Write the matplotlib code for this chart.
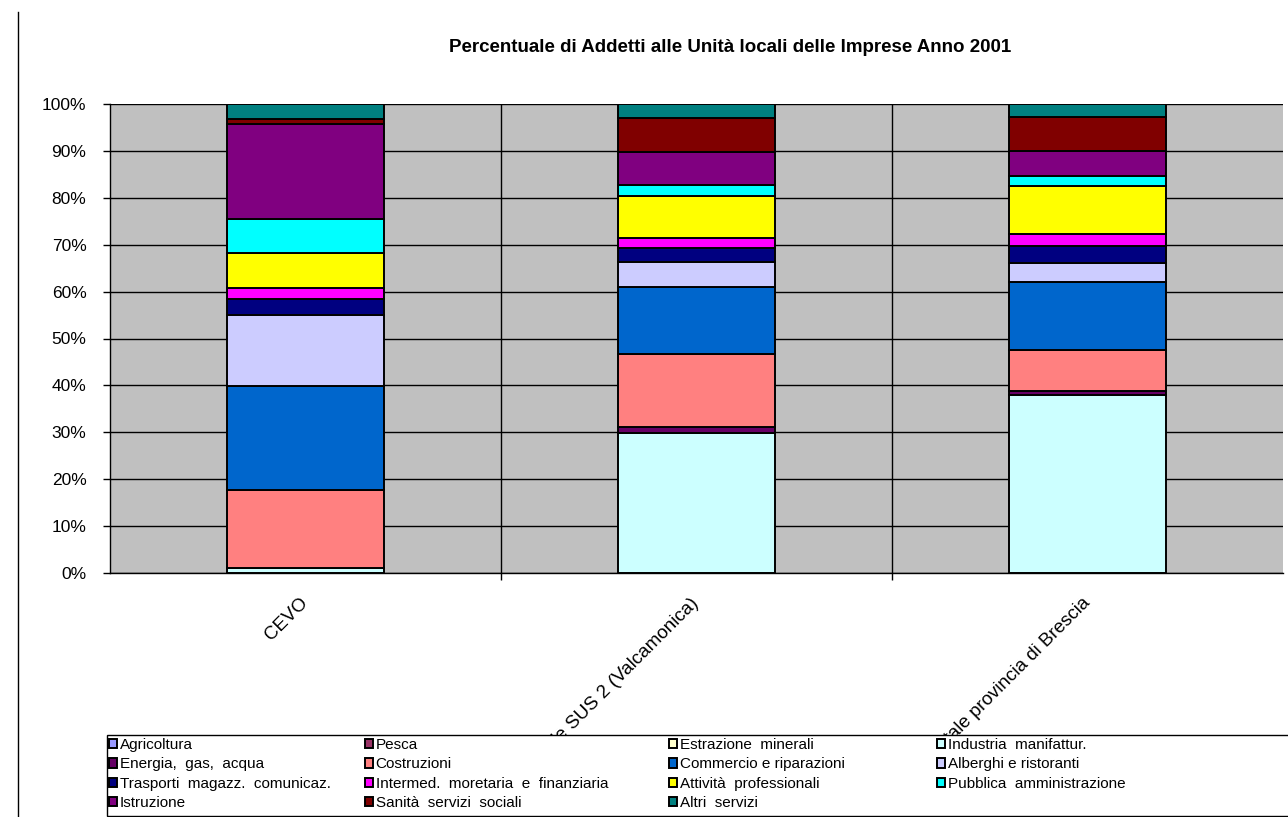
import numpy as np
import matplotlib.pyplot as plt
from matplotlib.lines import Line2D
from matplotlib.patches import Rectangle
from matplotlib.ticker import FuncFormatter

plt.rcParams['font.family'] = ['Liberation Sans', 'DejaVu Sans']

W, H = 1288, 817

categorie = ['CEVO', 'Totale SUS 2 (Valcamonica)', 'Totale provincia di Brescia']

# addetti per settore, valori percentuali
agricoltura = [0.0, 0.0, 0.0]
pesca = [0.0, 0.0, 0.0]
estrazione = [0.0, 0.0, 0.0]
industria = [1.1, 29.9, 38.0]
energia = [0.0, 1.2, 0.7]
costruzioni = [16.6, 15.7, 8.8]
commercio = [22.2, 14.2, 14.5]
alberghi = [15.1, 5.4, 4.0]
trasporti = [3.4, 3.0, 3.7]
intermed = [2.4, 2.1, 2.5]
attivita = [7.4, 8.9, 10.4]
pubblica = [7.2, 2.3, 2.1]
istruzione = [20.3, 7.1, 5.3]
sanita = [1.0, 7.3, 7.2]
altri = [3.3, 2.9, 2.8]

settori = ['Agricoltura', 'Pesca', 'Estrazione  minerali', 'Industria  manifattur.',
           'Energia,  gas,  acqua', 'Costruzioni', 'Commercio e riparazioni',
           'Alberghi e ristoranti', 'Trasporti  magazz.  comunicaz.',
           'Intermed.  moretaria  e  finanziaria', 'Attività  professionali',
           'Pubblica  amministrazione', 'Istruzione', 'Sanità  servizi  sociali',
           'Altri  servizi']
valori = [agricoltura, pesca, estrazione, industria, energia, costruzioni,
          commercio, alberghi, trasporti, intermed, attivita, pubblica,
          istruzione, sanita, altri]
colori = ['#9999FF', '#993366', '#FFFFCC', '#CCFFFF', '#660066', '#FF8080',
          '#0066CC', '#CCCCFF', '#000080', '#FF00FF', '#FFFF00', '#00FFFF',
          '#800080', '#800000', '#008080']

dati = np.array(valori, dtype=float)
dati = dati / dati.sum(axis=0) * 100

fig = plt.figure(figsize=(W / 100, H / 100), dpi=100)
ax = fig.add_axes([110 / W, 1 - 573 / H, 1173 / W, 469 / H])
ax.set_facecolor('#C0C0C0')

x = np.arange(len(categorie))
base = np.zeros(len(categorie))
handles = []
for nome, serie, col in zip(settori, dati, colori):
    b = ax.bar(x, serie, 0.4, bottom=base, color=col, edgecolor='black',
               linewidth=1.4, label=nome, zorder=3)
    handles.append(b)
    base += serie

ax.set_xlim(-0.5, len(categorie) - 0.5)
ax.set_ylim(0, 100)
ax.set_yticks(np.arange(0, 101, 10))
ax.yaxis.set_major_formatter(FuncFormatter(lambda v, p: f'{v:.0f}%'))
ax.tick_params(axis='y', labelsize=12.5, length=5, width=1, direction='out', pad=12)
ax.grid(axis='y', color='black', linewidth=1, zorder=1)

# linee di separazione tra le categorie
for sep in x[:-1] + 0.5:
    ax.axvline(sep, color='black', linewidth=1, zorder=1)

ax.set_xticks(x[:-1] + 0.5, minor=True)
ax.tick_params(axis='x', which='minor', length=5, width=1)
ax.set_xticks(x)
ax.set_xticklabels(categorie, rotation=45, ha='right', va='center',
                   rotation_mode='anchor', fontsize=13.5)
ax.tick_params(axis='x', which='major', length=0, pad=20)

for s in ['right', 'top']:
    ax.spines[s].set_visible(False)
ax.spines['left'].set_linewidth(1)
ax.spines['bottom'].set_linewidth(1)

fig.text(730 / W, 1 - 48 / H, 'Percentuale di Addetti alle Unità locali delle Imprese Anno 2001',
         ha='center', va='center', fontsize=13.5, fontweight='bold')

# riquadro della legenda, copre la parte finale delle etichette
fig.add_artist(Rectangle((107 / W, 1 / H), 1190 / W, 81 / H,
                         transform=fig.transFigure, facecolor='white',
                         edgecolor='black', linewidth=1, zorder=4))

# una colonna di legenda per ogni gruppo di settori, riempite per righe
col_x = [109, 365, 669, 937]
for c, cx in enumerate(col_x):
    idx = list(range(c, len(settori), 4))
    leg = fig.legend([handles[i] for i in idx], [settori[i] for i in idx],
                     loc='upper left', bbox_to_anchor=(cx / W, 1 - 738 / H),
                     fontsize=11, frameon=False, handlelength=0.55,
                     handleheight=0.55, handletextpad=0.15, labelspacing=0.35,
                     borderpad=0, borderaxespad=0)
    leg.set_zorder(5)

fig.add_artist(Line2D([18 / W, 18 / W], [0, 1 - 12 / H], color='black', linewidth=1))

fig.savefig('out.png', dpi=100)
